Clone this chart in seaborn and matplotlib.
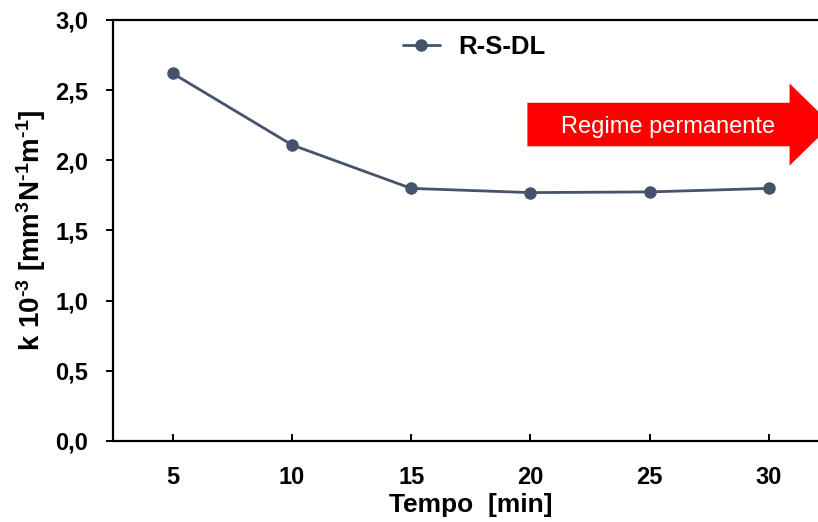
import pandas as pd
import matplotlib
matplotlib.use('Agg')
import matplotlib.pyplot as plt
import matplotlib.patches as mpatches
import seaborn as sns

# Data
tempo = [5, 10, 15, 20, 25, 30]
k_values = [2.62, 2.11, 1.80, 1.77, 1.775, 1.80]
series_name = 'R-S-DL'
y_ticks = [0.0, 0.5, 1.0, 1.5, 2.0, 2.5, 3.0]
y_tick_labels = ['0,0', '0,5', '1,0', '1,5', '2,0', '2,5', '3,0']

data = pd.DataFrame({'Tempo': tempo, 'k': k_values, 'serie': series_name})

sns.set_style('ticks')
plt.rcParams['font.family'] = ['Liberation Sans', 'DejaVu Sans']
plt.rcParams['mathtext.fontset'] = 'custom'
plt.rcParams['mathtext.rm'] = 'Liberation Sans:bold'
plt.rcParams['mathtext.it'] = 'Liberation Sans:bold'
plt.rcParams['mathtext.bf'] = 'Liberation Sans:bold'
plt.rcParams['text.color'] = 'black'
plt.rcParams['axes.labelcolor'] = 'black'
plt.rcParams['xtick.color'] = 'black'
plt.rcParams['ytick.color'] = 'black'

line_color = '#44546A'

fig = plt.figure(figsize=(8.18, 5.22), dpi=100)
ax = fig.add_axes([0.1381, 0.1552, 0.875, 0.8065])

sns.lineplot(data=data, x='Tempo', y='k', hue='serie', palette=[line_color],
             marker='o', markersize=9, markeredgewidth=0, linewidth=2, ax=ax)

ax.set_xlim(2.5, 32.5)
ax.set_ylim(0, 3.0)
ax.set_xticks(tempo)
ax.set_xticklabels([str(t) for t in tempo])
ax.set_yticks(y_ticks)
ax.set_yticklabels(y_tick_labels)

for side in ['left', 'bottom', 'top']:
    ax.spines[side].set_linewidth(1.6)
    ax.spines[side].set_color('black')
ax.spines['right'].set_visible(False)

ax.tick_params(axis='y', direction='out', length=5, width=1.4, labelsize=17, pad=13)
ax.tick_params(axis='x', direction='in', length=5, width=1.4, labelsize=17, pad=18)
for lbl in ax.get_xticklabels() + ax.get_yticklabels():
    lbl.set_fontweight('bold')

ax.set_xlabel('Tempo  [min]', fontsize=19, fontweight='bold', labelpad=3)
ax.set_ylabel(r'k 10$^{\text{-}3}$ [mm$^{3}$N$^{\text{-}1}$m$^{\text{-}1}$]', fontsize=20,
              fontweight='bold', labelpad=5)

# Legend
ax.legend(loc='center left', bbox_to_anchor=(0.405, 0.936), frameon=False,
          borderaxespad=0, borderpad=0,
          handlelength=1.45, handletextpad=0.7,
          prop={'size': 18.5, 'weight': 'bold'})

# "Regime permanente" arrow
arrow = mpatches.FancyArrow(19.87, 2.255, 12.75, 0, width=0.31, head_width=0.585,
                            head_length=1.76, length_includes_head=True,
                            color='#FF0000', linewidth=0, clip_on=False)
ax.add_patch(arrow)
ax.text(25.75, 2.24, 'Regime permanente', color='white', fontsize=17,
        ha='center', va='center')

fig.savefig('out.png', dpi=100)
